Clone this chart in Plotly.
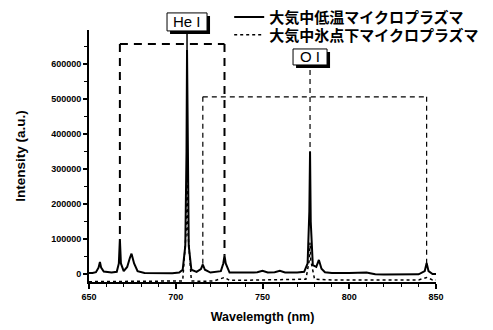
import plotly.graph_objects as go

# ---------------- data ----------------
wl_warm = [650, 652, 654, 655.5, 656.3, 657, 658.5, 660, 663, 666, 667.2, 667.8, 668.4, 670,
           672, 673.5, 674.5, 676, 678, 682, 690, 698, 702, 704, 705.5, 706.2, 706.5, 706.8,
           707.5, 709, 712, 714.5, 715.6, 716.8, 720, 726, 727.4, 728.1, 728.8, 731, 740, 745,
           747, 750, 753, 757, 760, 763, 770, 774, 776, 777.0, 777.4, 777.8, 779, 781, 782.5,
           784, 786, 790, 800, 805, 810, 812, 815, 820, 830, 840, 843.5, 844.6, 845.7, 848, 850]
int_warm = [3000, 2500, 5000, 18000, 34000, 18000, 7000, 6000, 4000, 6000, 30000, 100000, 30000, 8000,
            20000, 45000, 58000, 30000, 8000, 3000, 2000, 2000, 4000, 12000, 80000, 350000, 640000, 350000,
            80000, 12000, 6000, 14000, 27000, 12000, 4000, 8000, 30000, 52000, 30000, 4000, 3000, 4000,
            5000, 9000, 4000, 5000, 9000, 4000, 4000, 6000, 30000, 180000, 349000, 150000, 25000, 20000, 40000,
            15000, 5000, 3000, 3000, 4000, 4000, 2000, -1000, -1500, -1500, -1000, 8000, 31000, 8000, 0, 0]

wl_cold = [650, 660, 670, 690, 700, 704, 706.0, 706.5, 707.0, 709, 715, 722, 728.1, 731, 740, 750,
           760, 770, 775, 777.0, 777.4, 777.8, 780, 790, 800, 810, 820, 830, 840, 844.6, 848, 850]
int_cold = [-22000, -22000, -22000, -22000, -22000, -20000, 120000, 300000, 120000, -20000, -21000, -20000,
            -10000, -18000, -18000, -17000, -18000, -17000, -15000, 40000, 90000, 40000, -15000, -17000,
            -17000, -18000, -17000, -18000, -17000, -10000, -17000, -17000]

name_warm = "大気中低温マイクロプラズマ"
name_cold = "大気中氷点下マイクロプラズマ"

x_ticks = [650, 700, 750, 800, 850]
y_ticks = [0, 100000, 200000, 300000, 400000, 500000, 600000]

# line assignments
he_lines = [667.8, 706.5, 728.1]
he_foot = [100000, 640000, 52000]
o_lines = [715.6, 777.4, 844.6]
o_foot = [27000, 349000, 31000]
he_box_top = 657000
o_box_top = 506000

# ---------------- figure ----------------
fig = go.Figure()
fig.add_trace(go.Scatter(x=wl_warm, y=int_warm, mode="lines", name=name_warm,
                         line=dict(color="black", width=2), legend="legend"))
fig.add_trace(go.Scatter(x=wl_cold, y=int_cold, mode="lines", name=name_cold,
                         line=dict(color="black", width=1.5, dash="dot"), legend="legend2"))

shapes = []
he_dash = "8px,6px"
shapes.append(dict(type="line", xref="x", yref="y", x0=he_lines[0], x1=he_lines[2],
                   y0=he_box_top, y1=he_box_top, line=dict(color="black", width=2, dash=he_dash)))
shapes.append(dict(type="line", xref="x", yref="y", x0=he_lines[0], x1=he_lines[0],
                   y0=he_box_top, y1=he_foot[0], line=dict(color="black", width=2, dash=he_dash)))
shapes.append(dict(type="line", xref="x", yref="y", x0=he_lines[2], x1=he_lines[2],
                   y0=he_box_top, y1=he_foot[2], line=dict(color="black", width=2, dash=he_dash)))
shapes.append(dict(type="line", xref="x", yref="paper", x0=he_lines[1], x1=he_lines[1],
                   y0=0.9, y1=1.0, line=dict(color="black", width=1.5)))
o_dash = "5px,4px"
shapes.append(dict(type="line", xref="x", yref="y", x0=o_lines[0], x1=o_lines[2],
                   y0=o_box_top, y1=o_box_top, line=dict(color="black", width=1.2, dash=o_dash)))
shapes.append(dict(type="line", xref="x", yref="y", x0=o_lines[0], x1=o_lines[0],
                   y0=o_box_top, y1=o_foot[0], line=dict(color="black", width=1.2, dash=o_dash)))
shapes.append(dict(type="line", xref="x", yref="y", x0=o_lines[2], x1=o_lines[2],
                   y0=o_box_top, y1=o_foot[2], line=dict(color="black", width=1.2, dash=o_dash)))
shapes.append(dict(type="line", xref="x", yref="paper", x0=o_lines[1], x1=o_lines[1],
                   y0=0.5, y1=0.845, line=dict(color="black", width=1.2, dash=o_dash)))

# label boxes with drop shadows (pixel-sized rects anchored at the line position)
labels = [("He I", he_lines[1], 1.032, 40, 18), ("O I", o_lines[1], 0.893, 34, 16)]
lab_font = dict(family="Liberation Sans, Arial", size=15, color="black")
annotations = []
for txt, xv, yv, w, h in labels:
    shapes.append(dict(type="rect", xref="x", yref="paper", xsizemode="pixel", ysizemode="pixel",
                       xanchor=xv, yanchor=yv, x0=-w / 2 + 3, x1=w / 2 + 3, y0=-h / 2 - 3, y1=h / 2 - 3,
                       fillcolor="black", line=dict(width=0), layer="above"))
    shapes.append(dict(type="rect", xref="x", yref="paper", xsizemode="pixel", ysizemode="pixel",
                       xanchor=xv, yanchor=yv, x0=-w / 2, x1=w / 2, y0=-h / 2, y1=h / 2,
                       fillcolor="white", line=dict(color="black", width=1), layer="above"))
    annotations.append(dict(text=txt, x=xv, y=yv, xref="x", yref="paper", showarrow=False,
                            xanchor="center", yanchor="middle", font=lab_font))

tick_font = dict(family="Liberation Sans, Arial", size=9, color="black", weight="bold")
xtitle_font = dict(family="Liberation Sans, Arial", size=12.5, color="black", weight="bold")
ytitle_font = dict(family="Liberation Sans, Arial", size=13.5, color="black", weight="bold")
leg_font = dict(family="Noto Sans CJK JP", size=15, color="black", weight="bold")

# the page places the plot 8px in from the top-left corner, so the figure is 8px smaller
fig.update_layout(
    width=485, height=322,
    margin=dict(l=81, r=57, t=22, b=48, autoexpand=False),
    plot_bgcolor="white", paper_bgcolor="white",
    shapes=shapes, annotations=annotations,
    showlegend=True,
    legend=dict(x=0.404, y=1.116, xanchor="left", yanchor="top",
                bgcolor="rgba(0,0,0,0)", borderwidth=0, font=leg_font, itemwidth=30),
    legend2=dict(x=0.404, y=1.046, xanchor="left", yanchor="top",
                 bgcolor="rgba(0,0,0,0)", borderwidth=0, font=leg_font, itemwidth=30),
    xaxis=dict(range=[650, 850], tickvals=x_ticks, ticktext=[str(v) for v in x_ticks],
               automargin=False,
               showline=True, linewidth=2, linecolor="black", showgrid=False, zeroline=False,
               ticks="outside", ticklen=5, tickwidth=2, tickcolor="black", tickfont=tick_font,
               minor=dict(dtick=10, ticks="outside", ticklen=3, tickwidth=1, tickcolor="black"),
               title=dict(text="Wavelemgth (nm)", font=xtitle_font, standoff=11)),
    yaxis=dict(range=[-23000, 697000], tickvals=y_ticks, ticktext=[str(v) for v in y_ticks],
               automargin=False,
               showline=True, linewidth=2, linecolor="black", showgrid=False, zeroline=False,
               ticks="outside", ticklen=4, tickwidth=2, tickcolor="black", tickfont=tick_font,
               minor=dict(dtick=50000, ticks="outside", ticklen=3, tickwidth=1, tickcolor="black"),
               title=dict(text="Intensity (a.u.)", font=ytitle_font, standoff=22)),
)

fig.write_html("out.html")
